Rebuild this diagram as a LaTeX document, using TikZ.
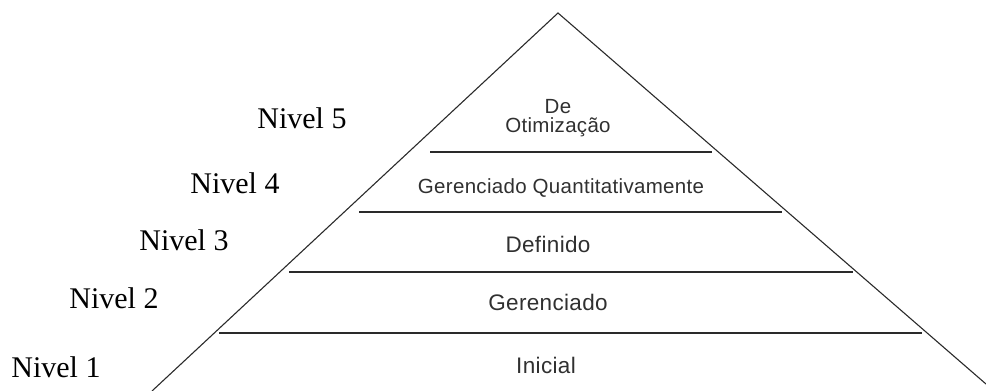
\documentclass[tikz,border=0pt]{standalone}
\usepackage{fontspec}
\setmainfont{Liberation Serif}
\newfontfamily\lsans[LetterSpace=1.5]{Liberation Sans}
\definecolor{inkline}{HTML}{2A2A2A}
\definecolor{inktext}{HTML}{303030}
\begin{document}
\begin{tikzpicture}[x=1pt,y=-1pt,
  side/.style={draw=inkline,line width=1.1pt},
  band/.style={draw=inkline,line width=1.7pt},
  lvl/.style={inner sep=0pt,font=\fontsize{30}{32}\selectfont,text=black},
  tier/.style={inner sep=0pt,font=\lsans\fontsize{20.5}{19}\selectfont,text=inktext,align=center},
  tierbig/.style={tier,font=\lsans\fontsize{22.5}{24}\selectfont}]
\useasboundingbox (0,0) rectangle (986,391);
% triangle
\coordinate (apex) at (558,13);
\coordinate (bl) at (152,391);
\coordinate (br) at (986,384);
\draw[side] (bl) -- (apex) -- (br);
% band lines
\coordinate (l1a) at (219,333); \coordinate (l1b) at (922,333);
\coordinate (l2a) at (289,272); \coordinate (l2b) at (853,272);
\coordinate (l3a) at (359,212); \coordinate (l3b) at (782,212);
\coordinate (l4a) at (430,152); \coordinate (l4b) at (712,152);
\draw[band] (l1a) -- (l1b);
\draw[band] (l2a) -- (l2b);
\draw[band] (l3a) -- (l3b);
\draw[band] (l4a) -- (l4b);
% level labels
\node[lvl] (n5) at (302,118) {Nivel 5};
\node[lvl] (n4) at (235,183) {Nivel 4};
\node[lvl] (n3) at (184,240) {Nivel 3};
\node[lvl] (n2) at (114,298) {Nivel 2};
\node[lvl] (n1) at (56,367) {Nivel 1};
% tier texts
\node[tier] (t5) at (558,118) {De\\Otimização};
\node[tier] (t4) at (561,188) {Gerenciado Quantitativamente};
\node[tierbig] (t3) at (548,244) {Definido};
\node[tierbig] (t2) at (548,302) {Gerenciado};
\node[tierbig] (t1) at (546,365) {Inicial};
\end{tikzpicture}
\end{document}
